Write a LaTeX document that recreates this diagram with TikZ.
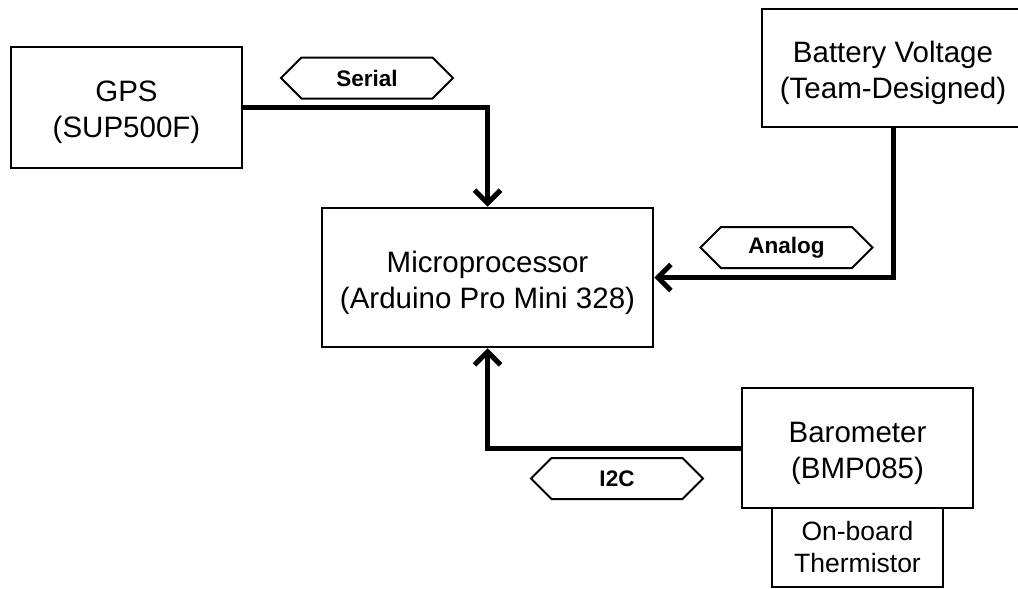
\documentclass[tikz,border=0pt]{standalone}
\usepackage{fontspec}
\setmainfont{Liberation Sans}
\usetikzlibrary{arrows.meta,shapes.symbols}

\begin{document}
\begin{tikzpicture}[x=1pt,y=-1pt,
	blocktext/.style={align=center, inner sep=0pt, yshift=-5pt,
		font=\fontsize{29.5}{36}\selectfont},
	block/.style={draw, line width=2.5pt, fill=white, inner sep=0pt,
		label={[blocktext]center:{#1}}},
	bus/.style={draw, line width=2pt, fill=white, signal, signal to=west and east,
		signal pointer angle=90, inner sep=0pt, minimum width=172pt, minimum height=41pt,
		font=\fontsize{22.5}{26}\selectfont\bfseries},
	link/.style={line width=5pt, -{Straight Barb[length=13pt,width=26pt]}}]
	\useasboundingbox (0,0) rectangle (1018,589);
	
	% Блоки
	\node[block={GPS\\(SUP500F)}, minimum width=231pt, minimum height=121pt] (gps)
	at (126.5,107.5) {};
	\node[block={Battery Voltage\\(Team-Designed)}, minimum width=262pt, minimum height=118pt] (batt)
	at (893,68) {};
	\node[block={Microprocessor\\(Arduino Pro Mini 328)}, minimum width=331pt, minimum height=139pt] (micro)
	at (487.5,277.5) {};
	\node[block={Barometer\\(BMP085)}, minimum width=231pt, minimum height=120pt] (baro)
	at (857.5,448) {};
	\node[draw, line width=2.5pt, fill=white, inner sep=0pt, align=center,
	minimum width=171pt, minimum height=79pt,
	font=\fontsize{26.5}{32}\selectfont] (therm)
	at (857.5,547.5) {On-board\\Thermistor};
	
	% Связи
	\draw[link] (gps.east) -| (micro.north);
	\draw[link] (batt.south) |- (micro.east);
	\draw[link] (baro.west) -| (micro.south);
	
	% Интерфейсы
	\node[bus] (serial) at (367,78) {Serial};
	\node[bus] (analog) at (786.5,247.5) {Analog};
	\node[bus] (itwoc) at (617,478.5) {I2C};
	
\end{tikzpicture}
\end{document}
